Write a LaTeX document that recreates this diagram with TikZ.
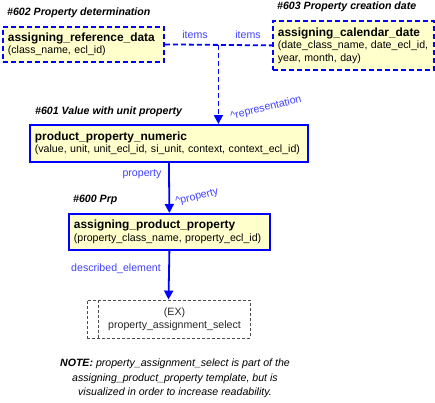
\documentclass[tikz,border=0pt]{standalone}
\usepackage{fontspec}
\setmainfont{Liberation Sans}
\usetikzlibrary{arrows.meta,calc}
\definecolor{boxfill}{RGB}{255,255,204}
\definecolor{relblue}{RGB}{0,0,255}
\definecolor{lblblue}{RGB}{64,64,255}
\newcommand{\clsname}[1]{{\fontsize{11.9}{13}\selectfont\bfseries #1}\\}
\begin{document}
\begin{tikzpicture}[x=1pt, y=-1pt,
    font=\fontsize{10.6}{12.5}\selectfont,
    cls/.style={draw=relblue, line width=1.8pt, fill=boxfill, anchor=north west,
                inner xsep=5pt, inner ysep=2pt, align=left},
    dsh/.style={dash pattern=on 5pt off 3pt},
    selbox/.style={draw=black!70, line width=0.9pt, dash pattern=on 3pt off 2pt},
    hdr/.style={anchor=west, inner sep=0pt, font=\fontsize{10.6}{12.5}\selectfont\bfseries\itshape},
    lbl/.style={text=lblblue, inner sep=0pt},
    relline/.style={draw=relblue, line width=1.8pt},
    rel/.style={relline, -{Triangle[width=9pt,length=9pt]}}]
  \useasboundingbox (0,0) rectangle (435,402);
  % template boxes
  \node[cls, dsh, minimum width=161pt, minimum height=35pt, text width=151pt] (ref) at (2,26)
    {\clsname{assigning\_reference\_data}(class\_name, ecl\_id)};
  \node[cls, dsh, minimum width=161pt, minimum height=49pt, text width=151pt] (cal) at (272,20)
    {\clsname{assigning\_calendar\_date}(date\_class\_name, date\_ecl\_id,\\year, month, day)};
  \node[cls, minimum width=278pt, minimum height=37pt, text width=268pt] (ppn) at (29,124)
    {\clsname{product\_property\_numeric}(value, unit, unit\_ecl\_id, si\_unit, context, context\_ecl\_id)};
  \node[cls, minimum width=201pt, minimum height=36pt, text width=191pt] (apv) at (68,213)
    {\clsname{assigning\_product\_property}(property\_class\_name, property\_ecl\_id)};
  \node[selbox, minimum width=163pt, minimum height=38pt] (ex) at (168.5,319) {};
  \draw[selbox] ([xshift=12pt]ex.north west) -- ([xshift=12pt]ex.south west);
  \node[align=center, text=black!85] (extxt) at ([xshift=6pt]ex.center)
    {(EX)\\property\_assignment\_select};

  % headings
  \node[hdr] (h602) at (7,13) {\#602 Property determination};
  \node[hdr] (h603) at (277,7) {\#603 Property creation date};
  \node[hdr] (h601) at (35,112) {\#601 Value with unit property};
  \node[hdr] (h600) at (73,200) {\#600 Prp};

  % connectors
  \coordinate (jn) at ($(ref.east)!0.5!(cal.west)$);
  \draw[relline, dsh] (ref.east) -- (cal.west);
  \draw[rel, dsh] (jn) -- (jn |- ppn.north);
  \draw[rel] (ppn.south) -- (apv.north);
  \draw[rel] (apv.south) -- (ex.north);

  % connector labels
  \node[lbl] (items1) at (195,35) {items};
  \node[lbl] (items2) at (248,35) {items};
  \node[lbl, rotate=14] (rep) at (266,108) {\textasciicircum representation};
  \node[lbl] (prop) at (142,174) {property};
  \node[lbl, rotate=14] (rprop) at (197,197) {\textasciicircum property};
  \node[lbl] (delem) at (116,269) {described\_element};

  \node[align=center, font=\fontsize{10.6}{14.5}\selectfont\itshape] (note) at (175,378.5)
    {\textbf{NOTE:} property\_assignment\_select is part of the\\
     assigning\_product\_property template, but is\\
     visualized in order to increase readability.};
\end{tikzpicture}
\end{document}
